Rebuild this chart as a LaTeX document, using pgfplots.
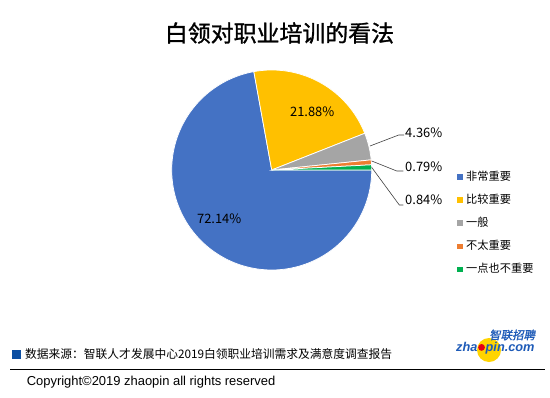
\documentclass[border=0pt]{standalone}
\usepackage{pgfplots}
\pgfplotsset{compat=1.18}
\usepackage{pgfplotstable}
\usepackage{fontspec}
\setmainfont{Noto Sans CJK SC}
\newfontfamily\latinfont{Liberation Sans}
\newfontfamily\titlefont{Noto Sans CJK SC}[FakeBold=1.2]
\newfontfamily\logocjk{Noto Sans CJK SC}[FakeSlant=0.2,FakeBold=1.5]
\definecolor{pieblue}{HTML}{4472C4}
\definecolor{pieyellow}{HTML}{FFC000}
\definecolor{piegray}{HTML}{A5A5A5}
\definecolor{pieorange}{HTML}{ED7D31}
\definecolor{piegreen}{HTML}{00B050}
\definecolor{srcblue}{HTML}{0B4EA2}
\definecolor{logoblue}{HTML}{1E5BB8}
\definecolor{logoyellow}{HTML}{FFD400}
\definecolor{logored}{HTML}{E60012}
\definecolor{leader}{HTML}{404040}

\pgfplotstableread[col sep=comma]{
label,value,color
非常重要,72.14,pieblue
比较重要,21.88,pieyellow
一般,4.36,piegray
不太重要,0.79,pieorange
一点也不重要,0.84,piegreen
}\piedata

\begin{document}
\begin{tikzpicture}[x=1bp,y=1bp]
\useasboundingbox (0,0) rectangle (550,397);
\fill[white] (0,0) rectangle (550,397);
\node[font=\titlefont\fontsize{23}{26}\selectfont] at (279.5,364) {白领对职业培训的看法};
\begin{axis}[
  at={(171.7,127)}, anchor=south west,
  x=100bp, y=100bp, xmin=-1, xmax=1, ymin=-1, ymax=1,
  hide axis, clip=false,
  legend image code/.code={\fill[#1,draw=none] (0bp,-2.8bp) rectangle (5.6bp,2.8bp);},
  legend style={draw=none, fill=none, at={(axis description cs:1.426,0.503)}, anchor=north west,
    inner sep=0pt, row sep=8.7bp, column sep=2bp,
    font=\fontsize{11.25}{13}\selectfont,
    nodes={inner sep=1.5bp, text height=9bp, text depth=2.5bp}},
  legend cell align=left,
]
\def\cum{0}
\pgfplotstablegetrowsof{\piedata}
\pgfmathtruncatemacro{\lastrow}{\pgfplotsretval-1}
\pgfplotsforeachungrouped \i in {0,...,\lastrow}{%
  \pgfplotstablegetelem{\i}{value}\of\piedata \let\sliceval\pgfplotsretval
  \pgfplotstablegetelem{\i}{color}\of\piedata \let\slicecol\pgfplotsretval
  \pgfplotstablegetelem{\i}{label}\of\piedata \let\slicelab\pgfplotsretval
  \pgfmathsetmacro{\angA}{-3.6*\cum}%
  \pgfmathsetmacro{\angB}{-3.6*(\cum+\sliceval)}%
  \edef\doslice{\noexpand\addplot[fill=\slicecol, draw=white, line width=0.75bp, data cs=polar, domain=\angB:\angA, samples=120] ({x},{1}) -- (axis cs:0,0) -- cycle;
    \noexpand\addlegendentry{\slicelab}}%
  \doslice
  \pgfmathsetmacro{\cum}{\cum+\sliceval}%
}
\node[font=\fontsize{13}{15}\selectfont] at (axis cs:0.405,0.583) {21.88\%};
\node[font=\fontsize{13}{15}\selectfont] at (axis cs:-0.525,-0.483) {72.14\%};
\draw[leader, line width=0.6bp] (axis cs:0.983,0.24) -- (axis cs:1.27,0.35) -- (axis cs:1.325,0.35);
\draw[leader, line width=0.6bp] (axis cs:1.0,0.09) -- (axis cs:1.25,-0.01) -- (axis cs:1.316,-0.01);
\draw[leader, line width=0.6bp] (axis cs:1.0,0.026) -- (axis cs:1.276,-0.35) -- (axis cs:1.316,-0.35);
\node[anchor=west, inner sep=0pt, font=\fontsize{13}{15}\selectfont] at (axis cs:1.333,0.373) {4.36\%};
\node[anchor=west, inner sep=0pt, font=\fontsize{13}{15}\selectfont] at (axis cs:1.333,0.033) {0.79\%};
\node[anchor=west, inner sep=0pt, font=\fontsize{13}{15}\selectfont] at (axis cs:1.333,-0.30) {0.84\%};
\end{axis}
% source line
\fill[srcblue] (12,38) rectangle (21,47.5);
\node[anchor=west, inner sep=0pt, font=\fontsize{11.8}{13}\selectfont] at (25,42.5) {数据来源：智联人才发展中心2019白领职业培训需求及满意度调查报告};
\draw[black, line width=0.9bp] (10,28) -- (545,28);
\node[anchor=west, inner sep=0pt, font=\latinfont\fontsize{13}{15}\selectfont] at (26.6,15) {Copyright©2019 zhaopin all rights reserved};
% logo
\fill[logoyellow] (489,47) circle (12);
\node[anchor=west, inner sep=0pt, text=logoblue, font=\logocjk\fontsize{11.5}{13}\selectfont] at (489,62) {智联招聘};
\node[anchor=base west, inner sep=0pt, text=logoblue, font=\latinfont\bfseries\itshape\fontsize{12.8}{14}\selectfont] (z) at (456,46) {zha};
\fill[logored] ([xshift=3.9bp,yshift=3.6bp]z.base east) circle (3.4bp);
\node[anchor=base west, inner sep=0pt, text=logoblue, font=\latinfont\bfseries\itshape\fontsize{12.8}{14}\selectfont] at ([xshift=7.8bp]z.base east) {pin.com};
\end{tikzpicture}
\end{document}
